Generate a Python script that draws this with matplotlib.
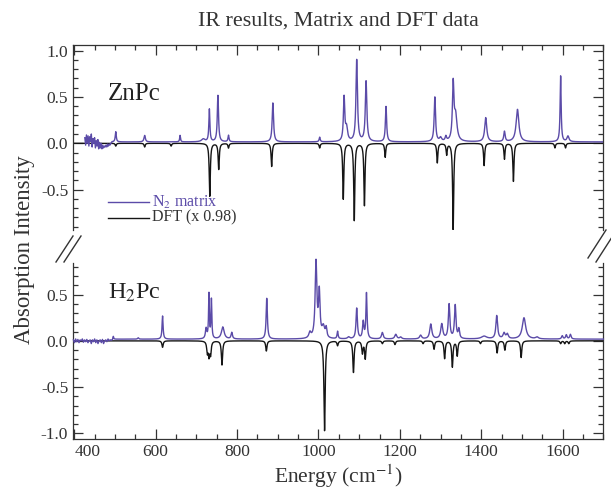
import numpy as np
import matplotlib
matplotlib.use("Agg")
import matplotlib.pyplot as plt
from matplotlib.lines import Line2D
from matplotlib.ticker import MultipleLocator, FormatStrFormatter

plt.rcParams['font.family'] = ['Liberation Serif', 'DejaVu Serif']
plt.rcParams['mathtext.fontset'] = 'stix'
plt.rcParams['axes.unicode_minus'] = False

# --- ZnPc, N2 matrix (peak centre cm-1, height, half width) ---
zn_exp_pos = [502, 573, 660, 717, 732, 753, 779, 888, 1003, 1063, 1069, 1094, 1117,
              1166, 1286, 1300, 1313, 1331, 1337, 1411, 1457, 1489, 1595, 1613]
zn_exp_amp = [0.11, 0.07, 0.07, 0.03, 0.35, 0.50, 0.07, 0.42, 0.05, 0.47, 0.14, 0.88, 0.65,
              0.38, 0.48, 0.04, 0.05, 0.60, 0.27, 0.26, 0.11, 0.35, 0.71, 0.06]
zn_exp_wid = [1.5, 2, 1.2, 5, 1.5, 1.8, 1.5, 2, 1.5, 2, 3, 2.2, 2.2,
              1.8, 2, 3, 2, 2.2, 4, 3, 2, 4, 1.5, 3]
zn_exp_base = 0.015
# noisy low-energy part of the ZnPc matrix trace (426 - 492 cm-1)
zn_noise = [0.06, -0.02, 0.09, 0.00, 0.08, -0.03, 0.07, 0.02, 0.10, -0.04, 0.05, 0.00,
            0.06, -0.05, 0.03, -0.03, 0.04, -0.06, 0.01, -0.05, 0.00, -0.06, -0.02, -0.05,
            -0.03, -0.04, -0.02, -0.04, -0.01, -0.03, -0.01, -0.02, 0.00, 0.005]

# --- ZnPc, DFT (x 0.98) ---
zn_dft_pos = [502, 573, 638, 733, 755, 779, 885, 1003, 1061, 1088, 1113, 1164,
              1292, 1315, 1331, 1407, 1457, 1479, 1581, 1607]
zn_dft_amp = [-0.03, -0.04, -0.03, -0.57, -0.28, -0.05, -0.25, -0.05, -0.60, -0.83, -0.67, -0.15,
              -0.21, -0.12, -0.93, -0.24, -0.17, -0.41, -0.05, -0.05]

# --- H2Pc, N2 matrix ---
h2_exp_pos = [496, 557, 617, 724, 731, 737, 765, 787, 873, 979, 994, 1002, 1012, 1019,
              1047, 1074, 1094, 1110, 1118, 1157, 1190, 1202, 1251, 1276, 1303, 1321,
              1336, 1345, 1407, 1438, 1456, 1464, 1505, 1537, 1599, 1609, 1619]
h2_exp_amp = [0.03, 0.015, 0.25, 0.11, 0.48, 0.42, 0.13, 0.07, 0.44, 0.06, 0.82, 0.48, 0.12, 0.10,
              0.08, 0.02, 0.33, 0.18, 0.49, 0.07, 0.05, 0.02, 0.04, 0.16, 0.16, 0.37,
              0.36, 0.10, 0.03, 0.25, 0.06, 0.05, 0.23, 0.02, 0.035, 0.045, 0.05]
h2_exp_wid = [1, 1.5, 1.5, 2, 1.2, 1.2, 4, 2, 1.8, 3, 2.5, 2.2, 4, 2,
              1.5, 3, 2, 2, 1.6, 2.5, 3, 3, 3, 3, 3, 2.2,
              2.2, 2, 8, 2.5, 3, 3, 5, 4, 2, 2, 2]
h2_exp_base = 0.018
# noisy low-energy part of the H2Pc matrix trace (398 - 494 cm-1)
h2_noise = [0.01, -0.02, 0.02, -0.01, 0.015, -0.02, 0.01, 0.00, 0.02, -0.015, 0.01, -0.01,
            0.015, -0.02, 0.00, 0.01, -0.03, 0.01, -0.01, 0.02, -0.02, 0.01, -0.03, 0.00,
            0.01, -0.02, 0.015, -0.03, 0.00, 0.01, -0.01, 0.02, 0.00, 0.01, 0.005, 0.01]

# --- H2Pc, DFT (x 0.98) ---
h2_dft_pos = [617, 727, 731, 735, 763, 872, 1015, 1047, 1086, 1108, 1115, 1157, 1188,
              1257, 1284, 1310, 1329, 1341, 1398, 1439, 1458, 1498, 1595, 1605, 1615]
h2_dft_amp = [-0.07, -0.12, -0.15, -0.14, -0.26, -0.11, -0.97, -0.05, -0.34, -0.13, -0.19, -0.03, -0.04,
              -0.03, -0.09, -0.19, -0.28, -0.16, -0.03, -0.13, -0.10, -0.18, -0.03, -0.03, -0.03]

purple = '#5b4ba8'
dark = '#151515'
grey = '#333333'


def lorentz_sum(x, pos, amp, wid):
    y = np.zeros_like(x)
    for c, a, w in zip(pos, amp, wid):
        y += a * w**2 / ((x - c)**2 + w**2)
    return y


grid = np.arange(397, 1700.01, 0.25)

# ZnPc traces
zn_nx = np.linspace(426, 492, len(zn_noise))
zn_x = np.concatenate([zn_nx, grid[grid > zn_nx[-1]]])
zn_off = np.concatenate([zn_noise, np.full((grid > zn_nx[-1]).sum(), zn_exp_base)])
zn_exp = lorentz_sum(zn_x, zn_exp_pos, zn_exp_amp, zn_exp_wid) + zn_off
zn_dft = lorentz_sum(grid, zn_dft_pos, zn_dft_amp, [1.6] * len(zn_dft_pos))

# H2Pc traces
h2_nx = np.linspace(398, 494, len(h2_noise))
h2_x = np.concatenate([h2_nx, grid[grid > h2_nx[-1]]])
h2_off = np.concatenate([h2_noise, np.full((grid > h2_nx[-1]).sum(), h2_exp_base)])
h2_exp = lorentz_sum(h2_x, h2_exp_pos, h2_exp_amp, h2_exp_wid) + h2_off
h2_dft = lorentz_sum(grid, h2_dft_pos, h2_dft_amp, [1.8] * len(h2_dft_pos))

fig = plt.figure(figsize=(6.11, 4.94), dpi=100)
ax1 = fig.add_axes([0.1195, 0.5344, 0.868, 0.3745])
ax2 = fig.add_axes([0.1195, 0.1113, 0.868, 0.3563])

ax1.plot(grid, zn_dft, color=dark, lw=1.0, zorder=2)
ax1.plot(zn_x, zn_exp, color=purple, lw=1.0, zorder=3)
ax2.plot(grid, h2_dft, color=dark, lw=1.0, zorder=2)
ax2.plot(h2_x, h2_exp, color=purple, lw=1.0, zorder=3, clip_on=False)

ax1.set_ylim(-0.935, 1.06)
ax2.set_ylim(-1.06, 0.84)

for ax in (ax1, ax2):
    ax.set_xlim(397, 1700)
    ax.xaxis.set_major_locator(MultipleLocator(200))
    ax.xaxis.set_minor_locator(MultipleLocator(50))
    ax.yaxis.set_major_locator(MultipleLocator(0.5))
    ax.yaxis.set_minor_locator(MultipleLocator(0.1))
    ax.yaxis.set_major_formatter(FormatStrFormatter('%.1f'))
    ax.tick_params(which='both', direction='in', right=True, colors=grey,
                   labelsize=12.5, width=0.9)
    ax.tick_params(which='major', length=7)
    ax.tick_params(which='minor', length=3.5)
    for s in ax.spines.values():
        s.set_color(grey)
        s.set_linewidth(0.9)

ax1.spines['bottom'].set_visible(False)
ax1.tick_params(which='both', top=True, bottom=False, labelbottom=False)
ax2.spines['top'].set_visible(False)
ax2.tick_params(which='both', top=False, bottom=True)
for lbl in ax2.get_xticklabels():
    if lbl.get_text() == '400':
        lbl.set_horizontalalignment('left')

ax1.text(0.066, 0.735, 'ZnPc', transform=ax1.transAxes, fontsize=18, color='#222222',
         va='center')
ax2.text(0.066, 0.83, 'H$_2$Pc', transform=ax2.transAxes, fontsize=17.5, color='#222222',
         va='center')

# legend, drawn by hand in axes fraction
ax1.plot([0.066, 0.143], [0.151, 0.151], transform=ax1.transAxes, color=purple, lw=1.0)
ax1.plot([0.066, 0.143], [0.067, 0.067], transform=ax1.transAxes, color=dark, lw=1.0)
ax1.text(0.149, 0.151, 'N$_2$ matrix', transform=ax1.transAxes, fontsize=11.5,
         color=purple, va='center')
ax1.text(0.149, 0.067, 'DFT (x 0.98)', transform=ax1.transAxes, fontsize=11.5,
         color=grey, va='center')

fig.suptitle('IR results, Matrix and DFT data', x=0.553, y=0.957, va='center',
             fontsize=15.8, color=grey)
fig.text(0.04, 0.494, 'Absorption Intensity', rotation=90, ha='center', va='center',
         fontsize=16.5, color=grey)
ax2.set_xlabel('Energy (cm$^{-1}$)', fontsize=15.5, color=grey, labelpad=2)

# break marks between the two panels
W, H = 611.0, 494.0
breaks = [((56, 262), (73, 236)), ((64, 262), (81, 236)),
          ((588, 258), (606, 230)), ((596, 262), (614, 234))]
for (x0, y0), (x1, y1) in breaks:
    fig.add_artist(Line2D([x0 / W, x1 / W], [1 - y0 / H, 1 - y1 / H],
                          transform=fig.transFigure, color=grey, lw=1.0))

fig.savefig('out.png', dpi=100)
